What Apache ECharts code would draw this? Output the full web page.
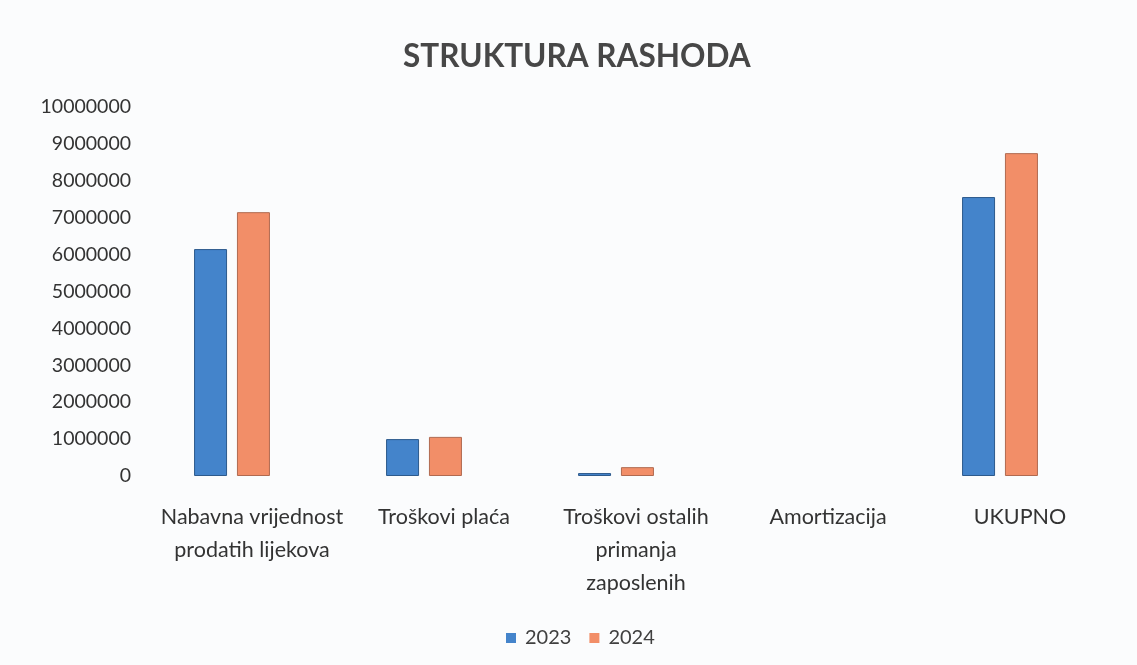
<!DOCTYPE html>
<html>
<head>
<meta charset="utf-8">
<script src="https://cdn.jsdelivr.net/npm/echarts@6/dist/echarts.min.js"></script>
<style>
  html, body { margin: 0; padding: 0; background: #fbfcfd; }
  #chart { width: 1137px; height: 665px; }
</style>
</head>
<body>
<div id="chart"></div>
<script>
const categories = [
  "Nabavna vrijednost\nprodatih lijekova",
  "Troškovi plaća",
  "Troškovi ostalih\nprimanja\nzaposlenih",
  "Amortizacija",
  "UKUPNO"
];
const values2023 = [6150000, 1000000, 80000, 0, 7560000];
const values2024 = [7150000, 1060000, 240000, 0, 8750000];
const yTicks = { min: 0, max: 10000000, interval: 1000000 };

let myChart = echarts.init(document.getElementById("chart"));
const font = "Lato, 'Open Sans', sans-serif";

// zero-height bars get no outline (nothing shows in the original)
function barData(vals) {
  return vals.map(function (v) {
    return { value: v, itemStyle: { borderWidth: v ? 1 : 0 } };
  });
}

let option = {
  backgroundColor: "#fbfcfd",
  title: {
    text: "STRUKTURA RASHODA",
    left: 398,
    top: 36,
    textStyle: { fontFamily: font, fontSize: 31.5, fontWeight: "bold", color: "#474747" }
  },
  legend: {
    bottom: 12,
    left: 501,
    itemWidth: 10,
    itemHeight: 10,
    itemGap: 18,
    icon: "rect",
    textStyle: { fontFamily: font, fontSize: 20, color: "#404040", padding: [0, 0, 0, 4] }
  },
  grid: { left: 136, right: 41, top: 107, bottom: 189, containLabel: false },
  xAxis: {
    type: "category",
    data: categories,
    axisLine: { show: false },
    axisTick: { show: false },
    axisLabel: {
      fontFamily: font,
      fontSize: 21.5,
      color: "#333",
      margin: 25,
      lineHeight: 33,
      interval: 0,
      verticalAlign: "top",
      padding: [0, 0, 0, 40]
    }
  },
  yAxis: {
    type: "value",
    min: yTicks.min,
    max: yTicks.max,
    interval: yTicks.interval,
    splitLine: { show: false },
    axisLine: { show: false },
    axisTick: { show: false },
    axisLabel: {
      fontFamily: font,
      fontSize: 19.5,
      color: "#333",
      margin: 5,
      formatter: function (v) { return String(v); }
    }
  },
  series: [
    {
      name: "2023",
      type: "bar",
      data: barData(values2023),
      barWidth: 33,
      barGap: "30%",
      itemStyle: { color: "#4484cb", borderColor: "#2d5a8c" }
    },
    {
      name: "2024",
      type: "bar",
      data: barData(values2024),
      barWidth: 33,
      itemStyle: { color: "#f28e68", borderColor: "#b06a50" }
    }
  ]
};

myChart.setOption(option);
</script>
</body>
</html>
